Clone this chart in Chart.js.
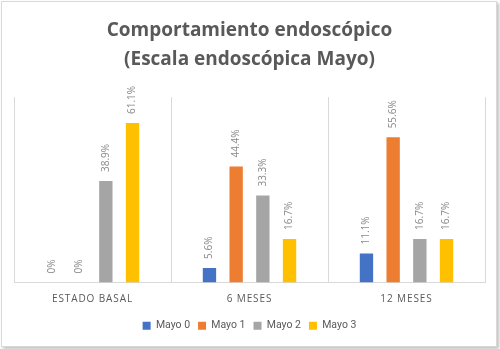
<!DOCTYPE html>
<html>
<head>
<meta charset="utf-8">
<script src="https://cdn.jsdelivr.net/npm/chart.js@4/dist/chart.umd.min.js"></script>
<style>
  body { margin: 0; background: #fff; }
  #box {
    position: absolute; left: 1px; top: 1px;
    width: 494px; height: 344px;
    border: 1px solid #d9d9d9;
    box-shadow: 2px 2px 3px rgba(0, 0, 0, 0.25);
    background: #fff;
  }
</style>
</head>
<body>
<div id="box"><canvas id="chart" width="494" height="344"></canvas></div>
<script>
const categories = ['ESTADO BASAL', '6 MESES', '12 MESES']
const seriesNames = ['Mayo 0', 'Mayo 1', 'Mayo 2', 'Mayo 3']
const mayo0 = [0, 5.6, 11.1]
const mayo1 = [0, 44.4, 55.6]
const mayo2 = [38.9, 33.3, 16.7]
const mayo3 = [61.1, 16.7, 16.7]
const colors = ['#4472C4', '#ED7D31', '#A5A5A5', '#FFC000']

const fmt = (v) => v + '%'

// value labels, rotated, above each bar
const barLabels = {
  id: 'barLabels',
  afterDatasetsDraw(chart) {
    const ctx = chart.ctx
    ctx.save()
    ctx.font = '10px "Open Sans"'
    ctx.fillStyle = '#8a8a8a'
    ctx.textAlign = 'left'
    ctx.textBaseline = 'middle'
    chart.data.datasets.forEach((ds, i) => {
      chart.getDatasetMeta(i).data.forEach((bar, j) => {
        ctx.save()
        ctx.translate(bar.x, bar.y - 9)
        ctx.rotate(-Math.PI / 2)
        ctx.fillText(fmt(ds.data[j]), 0, 0)
        ctx.restore()
      })
    })
    ctx.restore()
    // x tick labels are drawn after this (ticks.z = 1), spaced out
    ctx.letterSpacing = '0.9px'
  },
  afterDraw(chart) {
    chart.ctx.letterSpacing = '0px'
  }
}

const ctx = document.getElementById('chart').getContext('2d')
new Chart(ctx, {
  type: 'bar',
  data: {
    labels: categories,
    datasets: [mayo0, mayo1, mayo2, mayo3].map((d, i) => ({
      label: seriesNames[i],
      data: d,
      backgroundColor: colors[i],
      categoryPercentage: 0.68,
      barPercentage: 0.5,
    })),
  },
  options: {
    responsive: false,
    animation: false,
    layout: { padding: { left: 12, right: 11, top: 14, bottom: 5 } },
    plugins: {
      title: {
        display: true,
        text: ['Comportamiento endoscópico', '(Escala endoscópica Mayo)'],
        color: '#595959',
        font: { family: '"Open Sans"', size: 19, weight: 'bold', lineHeight: 1.53 },
        padding: { top: 0, bottom: 23 },
      },
      legend: {
        position: 'bottom',
        labels: {
          boxWidth: 8,
          boxHeight: 8,
          color: '#595959',
          font: { family: 'Roboto', size: 10.5 },
          padding: 8,
        },
      },
      tooltip: { enabled: false },
    },
    scales: {
      x: {
        afterFit: (scale) => { scale.height = 30 },
        grid: { offset: true, color: '#d9d9d9', drawTicks: false },
        border: { color: '#d9d9d9' },
        ticks: {
          z: 1,
          color: '#595959',
          font: { family: '"Open Sans"', size: 10 },
          padding: 11,
        },
      },
      y: {
        display: false,
        min: 0,
        max: 71,
      },
    },
  },
  plugins: [barLabels],
})
</script>
</body>
</html>
